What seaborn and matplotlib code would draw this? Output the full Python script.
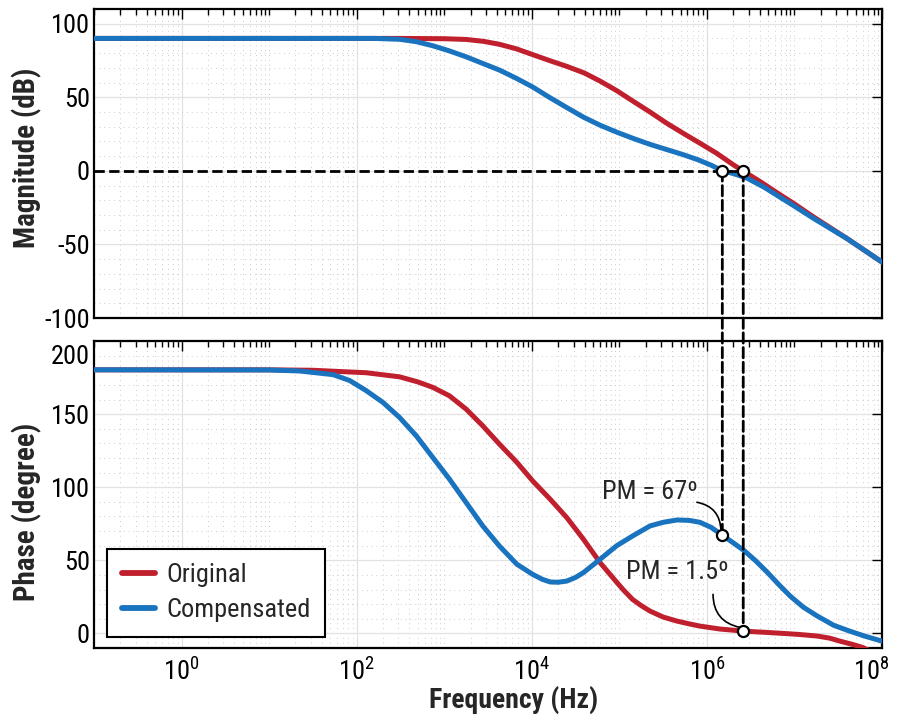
import numpy as np
import pandas as pd
import matplotlib
matplotlib.use("Agg")
import matplotlib.pyplot as plt
import seaborn as sns
from matplotlib import font_manager
from matplotlib.patches import ConnectionPatch
from matplotlib.lines import Line2D
from matplotlib.transforms import ScaledTranslation
from matplotlib.ticker import FixedLocator, LogLocator, MultipleLocator, NullFormatter

# ---------------- data ----------------
series_names = ["Original", "Compensated"]
series_colors = ["#C0202E", "#1A73BE"]

# magnitude: log10(frequency / Hz) and dB
orig_mag_logf = [-1, 2.5, 3.0, 3.25, 3.45, 3.63, 3.82, 4.01, 4.2, 4.4, 4.6, 4.78, 4.97, 5.16, 5.35, 5.54,
                 5.73, 5.92, 6.11, 6.3, 6.41, 6.6, 6.83, 7.0, 7.21, 7.6, 8.0]
orig_mag_db = [90, 90, 89.8, 89.3, 88, 86, 83, 79, 75, 71, 66.5, 61, 54.5, 47.2, 40, 32.4,
               25.5, 18.8, 12, 4.2, 0, -7, -16, -22.5, -31, -46, -62]

comp_mag_logf = [-1, 2.2, 2.49, 2.68, 2.87, 3.06, 3.25, 3.44, 3.63, 3.82, 4.01, 4.2, 4.4, 4.59, 4.78, 4.97,
                 5.16, 5.35, 5.54, 5.73, 5.9, 6.05, 6.18, 6.3, 6.46, 6.65, 6.83, 7.0, 7.21, 7.6, 8.0]
comp_mag_db = [90, 90, 89.4, 87.8, 85, 81.5, 77.5, 73, 68.5, 63, 57, 50, 43, 36.5, 31, 26.3,
               22, 18, 14.5, 11, 7.5, 3.8, 0, -1.8, -5, -11, -17.7, -24, -32, -46, -62]

# phase: log10(frequency / Hz) and degree
orig_ph_logf = [-1, 1.0, 1.5, 2.11, 2.49, 2.7, 2.87, 3.06, 3.25, 3.44, 3.63, 3.83, 4.01, 4.21, 4.4, 4.59,
                4.78, 4.97, 5.05, 5.15, 5.25, 5.35, 5.5, 5.66, 5.8, 5.92, 6.15, 6.43, 6.65, 6.87, 7.05,
                7.26, 7.4, 7.52, 7.65, 7.78, 7.9]
orig_ph_deg = [180.3, 180.3, 180, 178.3, 175.5, 172, 168.3, 162.5, 153.4, 142, 129.5, 117, 104.3, 91.8, 79.2, 64.4,
               48.4, 35, 29.5, 23.3, 19, 15.3, 11.2, 8.4, 6.5, 5, 3, 1.5, 0.8, 0, -0.7,
               -1.8, -3.2, -5.3, -7.3, -9.6, -13]

comp_ph_logf = [-1, 1.0, 1.35, 1.73, 1.92, 2.11, 2.3, 2.49, 2.68, 2.87, 3.06, 3.25, 3.44, 3.63, 3.83, 4.01,
                4.12, 4.21, 4.3, 4.4, 4.5, 4.59, 4.78, 4.97, 5.15, 5.35, 5.5, 5.66, 5.8, 5.92, 6.05,
                6.18, 6.3, 6.43, 6.56, 6.69, 6.82, 6.95, 7.1, 7.26, 7.45, 7.63, 7.8, 8.0]
comp_ph_deg = [180.3, 180.2, 179.5, 177, 173, 166, 158, 147.7, 135.2, 120.3, 105.5, 89.5, 73.5, 59.8, 47.3, 40.4,
               37, 35.2, 35, 35.8, 38.3, 41.6, 50.7, 60, 66.6, 73.5, 76, 77.6, 77.3, 76, 72.5,
               67, 62, 56.4, 49.5, 41.8, 33.5, 25.6, 18, 11.9, 5.5, 1.6, -1.8, -5.3]

# crossover frequencies (Hz) and phase margins (degree)
f_cross_comp = 1.5e6
f_cross_orig = 2.6e6
pm_comp = 67
pm_orig = 1.5
pm_labels = ["PM = 67º", "PM = 1.5º"]

x_ticks = [1e0, 1e2, 1e4, 1e6, 1e8]
x_tick_labels = ["$10^{0}$", "$10^{2}$", "$10^{4}$", "$10^{6}$", "$10^{8}$"]
mag_ticks = [-100, -50, 0, 50, 100]
ph_ticks = [0, 50, 100, 150, 200]

# ---------------- tables ----------------
def table(logf_list, vals_list):
    frames = []
    for name, lf, v in zip(series_names, logf_list, vals_list):
        frames.append(pd.DataFrame({"Frequency": np.power(10.0, np.array(lf)),
                                    "Value": v, "Series": name}))
    return pd.concat(frames, ignore_index=True)

mag_df = table([orig_mag_logf, comp_mag_logf], [orig_mag_db, comp_mag_db])
ph_df = table([orig_ph_logf, comp_ph_logf], [orig_ph_deg, comp_ph_deg])

# ---------------- font: prefer a narrow sans ----------------
sns.set_style("white")
entries = font_manager.fontManager.ttflist
names = {f.name for f in entries}
chosen, stretch, scale = None, "normal", 1.0
for want in ["Liberation Sans Narrow", "Arial Narrow", "Roboto Condensed", "Noto Sans Condensed",
             "Open Sans Condensed", "DejaVu Sans Condensed"]:
    if want in names:
        chosen = want
        break
if chosen is None:
    for fam in ["Roboto", "Noto Sans", "Open Sans", "DejaVu Sans", "Liberation Sans"]:
        cond = [f for f in entries if f.name == fam and str(f.stretch) in ("condensed", "semi-condensed")]
        if cond:
            chosen, stretch = fam, str(cond[0].stretch)
            break
if chosen is None:
    chosen, scale = "Liberation Sans", 0.86

plt.rcParams["font.family"] = [chosen, "Liberation Sans", "DejaVu Sans"]
plt.rcParams["font.stretch"] = stretch
plt.rcParams["axes.unicode_minus"] = False
plt.rcParams["mathtext.fontset"] = "custom"
plt.rcParams["mathtext.rm"] = chosen
plt.rcParams["mathtext.it"] = chosen + ":italic"
plt.rcParams["mathtext.bf"] = chosen + ":bold"

fs_tick = 19 * scale
fs_ylabel = 21 * scale
fs_xlabel = 20 * scale

fig = plt.figure(figsize=(8.98, 7.19), dpi=100)
ax1 = fig.add_axes([0.1047, 0.5577, 0.8775, 0.4298])
ax2 = fig.add_axes([0.1047, 0.0987, 0.8775, 0.4270])

palette = dict(zip(series_names, series_colors))
for ax, df, show_leg in ((ax1, mag_df, False), (ax2, ph_df, True)):
    ax.set_xscale("log")
    sns.lineplot(data=df, x="Frequency", y="Value", hue="Series", hue_order=series_names,
                 palette=palette, linewidth=3.6, estimator=None, sort=False,
                 legend=show_leg, ax=ax, zorder=3)
    ax.set_xlim(1e-1, 1e8)
    ax.xaxis.set_major_locator(FixedLocator(x_ticks))
    ax.xaxis.set_minor_locator(LogLocator(base=10, subs=np.arange(1, 10), numticks=200))
    ax.xaxis.set_minor_formatter(NullFormatter())
    ax.yaxis.set_minor_locator(MultipleLocator(10))
    ax.grid(which="major", color="#e2e2e2", lw=0.9, ls="-", zorder=0)
    ax.grid(which="minor", color="#cccccc", lw=0.7, ls=(0, (1, 4)), zorder=0)
    ax.set_axisbelow(True)
    ax.tick_params(which="both", direction="in", top=True, right=True, colors="black",
                   labelsize=fs_tick, width=1.0)
    ax.tick_params(axis="x", which="major", length=7, pad=7)
    ax.tick_params(axis="x", which="minor", length=4)
    ax.tick_params(axis="y", which="major", length=7, pad=3)
    ax.tick_params(axis="y", which="minor", length=0)
    for sp in ax.spines.values():
        sp.set_color("black")
        sp.set_linewidth(1.6)
        sp.set_visible(True)

ax1.set_ylim(-100, 110)
ax1.set_yticks(mag_ticks)
ax1.tick_params(labelbottom=False)
ax1.set_xlabel("")
ax1.set_ylabel("Magnitude (dB)", fontsize=fs_ylabel, fontweight="bold")
ax1.yaxis.set_label_coords(-0.066, 0.518)

ax2.set_ylim(-10, 200)
ax2.set_yticks(ph_ticks)
ax2.set_xticklabels(x_tick_labels)
ax2.set_ylabel("Phase (degree)", fontsize=fs_ylabel, fontweight="bold")
ax2.yaxis.set_label_coords(-0.066, 0.443)
ax2.set_xlabel("Frequency (Hz)", fontsize=fs_xlabel, fontweight="bold")
ax2.xaxis.set_label_coords(0.532, -0.169)
ax2.xaxis.label.set_va("center")

# the top phase label sits a little below its tick in the reference
top_lab = ax2.yaxis.get_major_ticks()[-1].label1
top_lab.set_transform(top_lab.get_transform() + ScaledTranslation(0, -0.13, fig.dpi_scale_trans))
# the last frequency label is nudged left so it stays inside the figure
last_lab = ax2.xaxis.get_major_ticks()[-1].label1
last_lab.set_transform(last_lab.get_transform() + ScaledTranslation(-0.11, 0, fig.dpi_scale_trans))

# legend
handles, labels = ax2.get_legend_handles_labels()
hl = [(h, l) for h, l in zip(handles, labels) if l in series_names]
leg = ax2.legend([h for h, _ in hl], [l for _, l in hl], loc="lower left",
                 bbox_to_anchor=(0.0165, 0.036), borderaxespad=0, fontsize=fs_tick,
                 frameon=True, fancybox=False, framealpha=1, edgecolor="black",
                 handlelength=1.25, handletextpad=0.45, borderpad=0.55, labelspacing=0.42)
leg.get_frame().set_linewidth(1.5)
for line in leg.get_lines():
    line.set_linewidth(4.2)

# dashed guide lines and crossover markers
ax1.plot([1e-1, f_cross_orig], [0, 0], ls="--", color="black", lw=2, zorder=4)
for f, pm in ((f_cross_comp, pm_comp), (f_cross_orig, pm_orig)):
    con = ConnectionPatch(xyA=(f, 0), coordsA=ax1.transData, xyB=(f, pm), coordsB=ax2.transData,
                          ls="--", color="black", lw=2, zorder=4)
    fig.add_artist(con)
    for ax, y in ((ax1, 0), (ax2, pm)):
        fig.add_artist(Line2D([f], [y], transform=ax.transData, marker="o", ms=8,
                              mfc="white", mec="black", mew=1.6, ls="none", zorder=6))

# phase-margin annotations
ax2.text(10 ** 5.35, 96.6, pm_labels[0], ha="center", va="center", fontsize=fs_tick)
ax2.text(10 ** 5.66, 41.8, pm_labels[1], ha="center", va="center", fontsize=fs_tick)
ax2.annotate("", xy=(10 ** 6.16, 70.5), xytext=(10 ** 5.886, 89.7),
             arrowprops=dict(arrowstyle="-", connectionstyle="arc3,rad=-0.4", color="black",
                             lw=1.2, shrinkA=0, shrinkB=0))
ax2.annotate("", xy=(10 ** 6.377, 4.1), xytext=(10 ** 6.07, 26.7),
             arrowprops=dict(arrowstyle="-", connectionstyle="arc3,rad=0.4", color="black",
                             lw=1.2, shrinkA=0, shrinkB=0))

fig.savefig("out.png", dpi=100)
